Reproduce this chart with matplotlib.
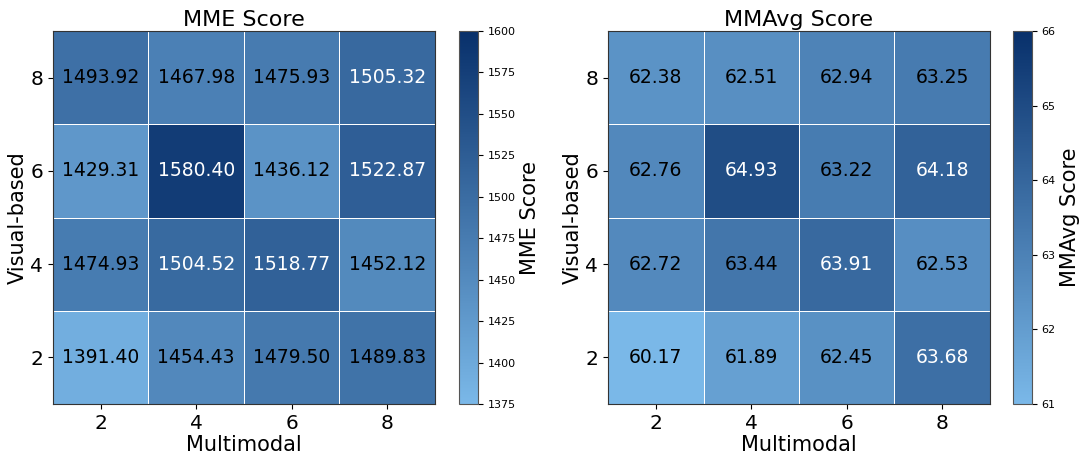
import numpy as np
import matplotlib.pyplot as plt
from matplotlib.colors import LinearSegmentedColormap

multimodal = [2, 4, 6, 8]
visual = [2, 4, 6, 8]

# rows = visual-based (2, 4, 6, 8), cols = multimodal (2, 4, 6, 8)
mme = np.array([
    [1391.40, 1454.43, 1479.50, 1489.83],
    [1474.93, 1504.52, 1518.77, 1452.12],
    [1429.31, 1580.40, 1436.12, 1522.87],
    [1493.92, 1467.98, 1475.93, 1505.32],
])
mmavg = np.array([
    [60.17, 61.89, 62.45, 63.68],
    [62.72, 63.44, 63.91, 62.53],
    [62.76, 64.93, 63.22, 64.18],
    [62.38, 62.51, 62.94, 63.25],
])

cmap = LinearSegmentedColormap.from_list('blu', ['#7ab8e8', '#08306b'])

fig = plt.figure(figsize=(10.85, 4.65), dpi=100)
ax1 = fig.add_axes([0.0488, 0.1312, 0.352, 0.802])
cax1 = fig.add_axes([0.423, 0.1312, 0.0175, 0.802])
ax2 = fig.add_axes([0.5604, 0.1312, 0.352, 0.802])
cax2 = fig.add_axes([0.9336, 0.1312, 0.0175, 0.802])

edges = np.array([1, 3, 5, 7, 9])


def draw(ax, cax, data, vmin, vmax, ticks, title):
    m = ax.pcolormesh(edges, edges, data, cmap=cmap, vmin=vmin, vmax=vmax,
                      edgecolor='white', linewidth=0.6)
    for i, v in enumerate(visual):
        for j, mm in enumerate(multimodal):
            val = data[i, j]
            frac = (val - vmin) / (vmax - vmin)
            col = 'white' if frac > 0.53 else 'black'
            ax.text(mm, v, f'{val:.2f}', ha='center', va='center', fontsize=13.5, color=col)
    ax.set_xlim(1, 9)
    ax.set_ylim(1, 9)
    ax.set_xticks(multimodal)
    ax.set_yticks(visual)
    ax.tick_params(labelsize=14.5)
    ax.set_xlabel('Multimodal', fontsize=15, labelpad=2)
    ax.set_ylabel('Visual-based', fontsize=15, labelpad=2)
    ax.set_title(title, fontsize=16, pad=4)
    for s in ax.spines.values():
        s.set_color('#333333')
    cb = fig.colorbar(m, cax=cax, ticks=ticks)
    cb.ax.tick_params(labelsize=8)
    cb.set_label(title, fontsize=15, labelpad=3)
    cb.outline.set_edgecolor('#555555')


draw(ax1, cax1, mme, 1375, 1600, np.arange(1375, 1601, 25), 'MME Score')
draw(ax2, cax2, mmavg, 61, 66, np.arange(61, 67, 1), 'MMAvg Score')

fig.savefig('out.png', dpi=100)
